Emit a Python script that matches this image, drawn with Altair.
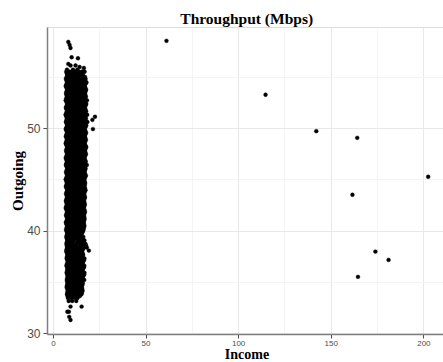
import altair as alt
import pandas as pd

# Outlying points (Income, Outgoing)
outlier_income = [61.3, 114.8, 142.2, 164.3, 202.6, 161.7, 174.1, 181.2, 164.7]
outlier_outgoing = [58.5, 53.25, 49.7, 49.05, 45.25, 43.5, 37.96, 37.15, 35.5]

# Dense cluster, read row by row: (Outgoing, [Income values])
cluster_rows = [
    (58.4, [8.3]), (58.1, [9.0]), (57.8, [9.5]), (56.9, [10.1]), (56.8, [13.5]),
    (56.25, [8.3]), (56.1, [9.5, 12.2]), (55.95, [14.4]), (55.85, [16.7]),
    (55.7, [7.6, 10.8, 13.2]),
    (55.5, [7.2, 8.9, 10.4, 12.0, 13.9, 15.6, 17.1]),
    (55.15, [7.9, 9.6, 11.3, 13.0, 14.7, 16.2]),
    (54.8, [7.0, 8.8, 10.5, 12.2, 13.8, 15.4, 17.6]),
    (54.45, [7.7, 9.4, 11.1, 12.9, 14.5, 16.3, 18.1]),
    (54.1, [6.9, 8.6, 10.3, 12.0, 13.7, 15.4, 17.1]),
    (53.75, [7.8, 9.5, 11.2, 12.8, 14.6, 16.2, 17.9]),
    (53.4, [7.1, 8.8, 10.4, 12.1, 13.9, 15.5, 17.3]),
    (53.05, [7.6, 9.3, 11.0, 12.7, 14.4, 16.1, 17.8]),
    (52.7, [6.9, 8.6, 10.2, 12.0, 13.6, 15.3, 17.0, 18.4]),
    (52.35, [7.8, 9.5, 11.2, 12.9, 14.6, 16.3, 18.0]),
    (52.0, [7.0, 8.7, 10.4, 12.1, 13.8, 15.5, 17.2]),
    (51.65, [7.7, 9.4, 11.1, 12.8, 14.5, 16.2, 17.9]),
    (51.3, [6.8, 8.5, 10.2, 11.9, 13.6, 15.3, 17.0, 18.5]),
    (51.1, [22.7]),
    (50.95, [7.6, 9.3, 11.0, 12.7, 14.4, 16.1, 17.8]),
    (50.8, [21.3]),
    (50.6, [7.0, 8.7, 10.4, 12.1, 13.8, 15.5, 17.2, 18.6]),
    (50.25, [7.8, 9.5, 11.2, 12.9, 14.6, 16.3, 18.0]),
    (49.9, [6.9, 8.6, 10.3, 12.0, 13.7, 15.4, 17.1, 21.6]),
    (49.55, [7.7, 9.4, 11.1, 12.8, 14.5, 16.2, 17.9]),
    (49.2, [7.0, 8.7, 10.4, 12.1, 13.8, 15.5, 17.2]),
    (48.85, [7.6, 9.3, 11.0, 12.7, 14.4, 16.1, 17.8]),
    (48.5, [6.9, 8.6, 10.3, 12.0, 13.7, 15.4, 17.1]),
    (48.15, [7.8, 9.5, 11.2, 12.9, 14.6, 16.3, 18.0]),
    (47.8, [7.1, 8.8, 10.5, 12.2, 13.9, 15.6, 17.3]),
    (47.45, [7.7, 9.4, 11.1, 12.8, 14.5, 16.2, 17.8]),
    (47.1, [6.9, 8.6, 10.3, 12.0, 13.7, 15.4, 17.0]),
    (46.75, [7.6, 9.3, 11.0, 12.7, 14.4, 16.1, 17.7]),
    (46.4, [7.0, 8.7, 10.4, 12.1, 13.8, 15.5, 17.2, 18.3]),
    (46.05, [7.8, 9.5, 11.2, 12.9, 14.6, 16.2, 17.6]),
    (45.7, [7.1, 8.8, 10.5, 12.2, 13.9, 15.5, 17.0]),
    (45.35, [7.7, 9.4, 11.1, 12.8, 14.5, 16.1, 17.8]),
    (45.0, [6.9, 8.6, 10.3, 12.0, 13.7, 15.3, 16.9]),
    (44.65, [7.6, 9.3, 11.0, 12.7, 14.3, 15.9, 17.4]),
    (44.3, [7.0, 8.7, 10.4, 12.1, 13.8, 15.4, 17.0]),
    (43.95, [7.8, 9.5, 11.2, 12.9, 14.5, 16.1, 17.6]),
    (43.6, [7.1, 8.8, 10.5, 12.2, 13.8, 15.4, 16.8]),
    (43.25, [7.7, 9.4, 11.1, 12.7, 14.3, 15.9, 17.3]),
    (42.9, [7.0, 8.7, 10.4, 12.0, 13.6, 15.2, 16.8]),
    (42.55, [7.6, 9.3, 11.0, 12.6, 14.2, 15.8, 17.2]),
    (42.2, [6.9, 8.6, 10.3, 11.9, 13.5, 15.1, 16.7]),
    (41.85, [7.7, 9.4, 11.0, 12.6, 14.2, 15.8, 17.3]),
    (41.5, [7.1, 8.8, 10.4, 12.0, 13.6, 15.2, 16.7]),
    (41.15, [7.8, 9.4, 11.0, 12.6, 14.2, 15.8, 17.1]),
    (40.8, [7.0, 8.6, 10.2, 11.8, 13.4, 15.0, 16.6]),
    (40.45, [7.7, 9.3, 10.9, 12.5, 14.1, 15.7, 17.0]),
    (40.1, [7.1, 8.7, 10.3, 11.9, 13.5, 15.1, 16.5]),
    (39.75, [7.8, 9.4, 11.0, 12.6, 14.2, 15.7]),
    (39.4, [7.2, 8.8, 10.2, 12.1, 13.4, 15.0, 16.4]),
    (39.05, [7.8, 9.5, 11.3, 13.9, 15.6, 17.0]),
    (38.7, [7.3, 8.9, 10.0, 12.4, 14.6, 16.2, 17.6]),
    (38.35, [7.7, 9.6, 11.5, 13.2, 15.0, 16.8, 18.3]),
    (38.06, [19.4]),
    (38.0, [7.2, 8.8, 10.4, 12.4, 14.1, 15.7]),
    (37.65, [7.9, 9.5, 11.0, 12.9, 14.6, 16.3]),
    (37.3, [7.4, 8.9, 10.6, 12.2, 13.8, 15.5, 17.0]),
    (36.95, [8.0, 9.7, 11.4, 13.0, 14.7, 16.3]),
    (36.6, [7.3, 9.0, 10.6, 12.3, 13.9, 15.6, 16.9]),
    (36.25, [7.9, 9.6, 11.3, 12.9, 14.6, 16.2]),
    (35.9, [7.4, 9.0, 10.7, 12.3, 14.0, 15.6, 17.0]),
    (35.55, [8.0, 9.7, 11.3, 13.0, 14.6, 16.3]),
    (35.2, [7.5, 9.1, 10.8, 12.4, 14.1, 15.7, 16.9]),
    (34.85, [7.9, 9.6, 11.2, 12.9, 14.5, 16.1]),
    (34.5, [7.4, 9.0, 10.7, 12.3, 14.0, 15.6]),
    (34.15, [8.0, 9.7, 11.3, 13.0, 14.5, 16.0]),
    (33.8, [7.6, 9.2, 10.9, 12.5, 14.1, 15.4]),
    (33.45, [8.1, 9.9, 11.6, 13.3]),
    (33.15, [8.5, 10.4, 12.6]),
    (32.6, [9.5, 15.5]),
    (32.1, [7.8, 8.6]),
    (31.6, [8.8]),
    (31.3, [9.5]),
]

# Further cluster points read between the rows above
cluster_rows_b = [
    (55.33, [7.5, 9.2, 11.0, 12.5, 14.3, 16.0]),
    (54.98, [7.4, 9.2, 10.9, 12.6, 14.2, 15.8, 17.3]),
    (54.63, [7.3, 9.0, 10.7, 12.5, 14.1, 15.9, 17.4]),
    (54.28, [7.3, 9.0, 10.7, 12.4, 14.1, 15.8, 17.5]),
    (53.93, [7.3, 9.1, 10.7, 12.4, 14.2, 15.8, 17.5]),
    (53.58, [7.4, 9.2, 10.8, 12.5, 14.2, 15.9, 17.6]),
    (53.23, [7.3, 9.0, 10.7, 12.4, 14.1, 15.8, 17.5]),
    (52.88, [7.2, 8.9, 10.6, 12.3, 14.0, 15.7, 17.4]),
    (52.53, [7.3, 9.0, 10.7, 12.4, 14.1, 15.8, 17.5]),
    (52.18, [7.4, 9.1, 10.8, 12.5, 14.2, 15.9, 17.6]),
    (51.83, [7.3, 9.0, 10.7, 12.4, 14.1, 15.8, 17.5]),
    (51.48, [7.2, 8.9, 10.6, 12.3, 14.0, 15.7, 17.4]),
    (51.13, [7.2, 8.9, 10.6, 12.3, 14.0, 15.7, 17.4]),
    (50.78, [7.3, 9.0, 10.7, 12.4, 14.1, 15.8, 17.5]),
    (50.43, [7.4, 9.1, 10.8, 12.5, 14.2, 15.9, 17.6]),
    (50.08, [7.3, 9.0, 10.7, 12.4, 14.1, 15.8, 17.5]),
    (49.73, [7.3, 9.0, 10.7, 12.4, 14.1, 15.8, 17.5]),
    (49.38, [7.3, 9.0, 10.7, 12.4, 14.1, 15.8, 17.5]),
    (49.03, [7.3, 9.0, 10.7, 12.4, 14.1, 15.8, 17.5]),
    (48.68, [7.2, 8.9, 10.6, 12.3, 14.0, 15.7, 17.4]),
    (48.33, [7.3, 9.0, 10.7, 12.4, 14.1, 15.8, 17.5]),
    (47.98, [7.4, 9.1, 10.8, 12.5, 14.2, 15.9, 17.6]),
    (47.63, [7.4, 9.1, 10.8, 12.5, 14.2, 15.9, 17.5]),
    (47.28, [7.3, 9.0, 10.7, 12.4, 14.1, 15.8, 17.4]),
    (46.93, [7.2, 8.9, 10.6, 12.3, 14.0, 15.7, 17.3]),
    (46.58, [7.3, 9.0, 10.7, 12.4, 14.1, 15.8, 17.4]),
    (46.23, [7.4, 9.1, 10.8, 12.5, 14.2, 15.8, 17.4]),
    (45.88, [7.4, 9.1, 10.8, 12.5, 14.2, 15.8, 17.3]),
    (45.53, [7.4, 9.1, 10.8, 12.5, 14.2, 15.8, 17.4]),
    (45.18, [7.3, 9.0, 10.7, 12.4, 14.1, 15.7, 17.3]),
    (44.83, [7.2, 8.9, 10.6, 12.3, 14.0, 15.6, 17.1]),
    (44.48, [7.3, 9.0, 10.7, 12.4, 14.0, 15.6, 17.2]),
    (44.13, [7.4, 9.1, 10.8, 12.5, 14.1, 15.7, 17.3]),
    (43.78, [7.4, 9.1, 10.8, 12.5, 14.1, 15.7, 17.2]),
    (43.43, [7.4, 9.1, 10.8, 12.4, 14.0, 15.6, 17.0]),
    (43.08, [7.3, 9.0, 10.7, 12.3, 13.9, 15.5, 17.0]),
    (42.73, [7.3, 9.0, 10.7, 12.3, 13.9, 15.5, 17.0]),
    (42.38, [7.2, 8.9, 10.6, 12.2, 13.8, 15.4, 16.9]),
    (42.03, [7.3, 9.0, 10.6, 12.2, 13.8, 15.4, 17.0]),
    (41.68, [7.4, 9.1, 10.7, 12.3, 13.9, 15.5, 17.0]),
    (41.33, [7.4, 9.1, 10.7, 12.3, 13.9, 15.5, 16.9]),
    (40.98, [7.4, 9.0, 10.6, 12.2, 13.8, 15.4, 16.8]),
    (40.63, [7.3, 8.9, 10.5, 12.1, 13.7, 15.3, 16.8]),
    (40.28, [7.4, 9.0, 10.6, 12.2, 13.8, 15.4, 16.7]),
    (39.93, [7.4, 9.0, 10.6, 12.2, 13.8, 15.4, 16.2]),
    (39.58, [7.5, 9.1, 10.6, 12.3, 13.8, 15.3]),
    (39.23, [7.5, 9.1, 10.7, 12.6, 14.6, 16.2]),
    (38.88, [7.5, 9.2, 10.6, 13.1, 15.1, 16.6]),
    (38.53, [7.5, 9.2, 10.8, 12.8, 14.8, 16.5, 17.9]),
    (38.18, [7.4, 9.2, 10.9, 12.8, 14.5, 16.2]),
    (37.83, [7.5, 9.1, 10.7, 12.6, 14.3, 16.0]),
    (37.48, [7.6, 9.2, 10.8, 12.5, 14.2, 15.9]),
    (37.13, [7.7, 9.3, 11.0, 12.6, 14.2, 15.9, 16.8]),
    (36.78, [7.6, 9.3, 11.0, 12.6, 14.3, 15.9]),
    (36.43, [7.6, 9.3, 10.9, 12.6, 14.2, 15.9, 16.8]),
    (36.08, [7.6, 9.3, 11.0, 12.6, 14.3, 15.9]),
    (35.73, [7.7, 9.3, 11.0, 12.6, 14.3, 16.0, 16.9]),
    (35.38, [7.7, 9.4, 11.0, 12.7, 14.3, 16.0]),
    (35.03, [7.7, 9.3, 11.0, 12.6, 14.3, 15.9]),
    (34.68, [7.6, 9.3, 10.9, 12.6, 14.2, 15.8]),
    (34.33, [7.7, 9.3, 11.0, 12.6, 14.2, 15.8]),
    (33.98, [7.8, 9.4, 11.1, 12.7, 14.3, 15.7]),
    (33.63, [7.9, 9.5, 11.2, 12.9, 14.5]),
]

x_ticks = [0, 50, 100, 150, 200]
x_minor = [25, 75, 125, 175]
y_ticks = [30, 40, 50]
y_minor = [35, 45, 55]

income, outgoing = [], []
for yv, xs in cluster_rows + cluster_rows_b:
    for xv in xs:
        income.append(xv)
        outgoing.append(yv)
income += outlier_income
outgoing += outlier_outgoing
df = pd.DataFrame({"Income": income, "Outgoing": outgoing})

xscale = alt.Scale(domain=[-3.2, 210.6], nice=False, zero=False)
yscale = alt.Scale(domain=[29.93, 59.85], nice=False, zero=False)

serif = "Liberation Serif"
sans = "Liberation Sans"

minor = alt.Chart(df).mark_circle(opacity=0).encode(
    x=alt.X("Income:Q", scale=xscale,
            axis=alt.Axis(values=x_minor, grid=True, gridColor="#f4f4f4", gridWidth=1,
                          labels=False, ticks=False, domain=False, title=None, orient="top")),
    y=alt.Y("Outgoing:Q", scale=yscale,
            axis=alt.Axis(values=y_minor, grid=True, gridColor="#f4f4f4", gridWidth=1,
                          labels=False, ticks=False, domain=False, title=None, orient="right")),
)

points = alt.Chart(df).mark_point(size=15, filled=True, color="black", opacity=1,
                                   stroke="black", strokeWidth=0.4, strokeOpacity=1,
                                   fillOpacity=1, shape="circle").encode(
    x=alt.X("Income:Q", scale=xscale,
            axis=alt.Axis(values=x_ticks, grid=True, gridColor="#e8e8e8", gridWidth=1,
                          labelFont=sans, labelFontSize=8, labelColor="#4d4d4d",
                          tickSize=4, tickColor="#4d4d4d", labelPadding=1,
                          domainColor="#808080", domainWidth=1.5,
                          title="Income", titleFont=serif, titleFontSize=14, titleFontWeight="bold",
                          titleColor="black", titleX=199.5, titleY=27.5, titleAlign="center",
                          titleBaseline="bottom")),
    y=alt.Y("Outgoing:Q", scale=yscale,
            axis=alt.Axis(values=y_ticks, grid=True, gridColor="#e8e8e8", gridWidth=1,
                          labelFont=sans, labelFontSize=12, labelColor="#4d4d4d",
                          tickSize=4, tickColor="#4d4d4d", labelPadding=3,
                          domainColor="#808080", domainWidth=1.5,
                          title="Outgoing", titleFont=serif, titleFontSize=15, titleFontWeight="bold",
                          titleColor="black", titleAngle=270, titleX=-24.5, titleY=153.5,
                          titleAlign="center", titleBaseline="alphabetic")),
)

chart = alt.layer(minor, points).resolve_axis(x="independent", y="independent").properties(
    width=396,
    height=307,
    autosize=alt.AutoSizeParams(type="none"),
    padding={"left": 47, "top": 27, "right": 0, "bottom": 28},
    title=alt.TitleParams("Throughput (Mbps)", font=serif, fontSize=15.5, fontWeight="bold",
                          color="black", anchor="middle", offset=4, dx=1.7, dy=16,
                          baseline="alphabetic"),
).configure_view(stroke="#808080", strokeWidth=1).configure(background="white")

chart.save("out.html", embed_options={"renderer": "svg", "actions": False})
